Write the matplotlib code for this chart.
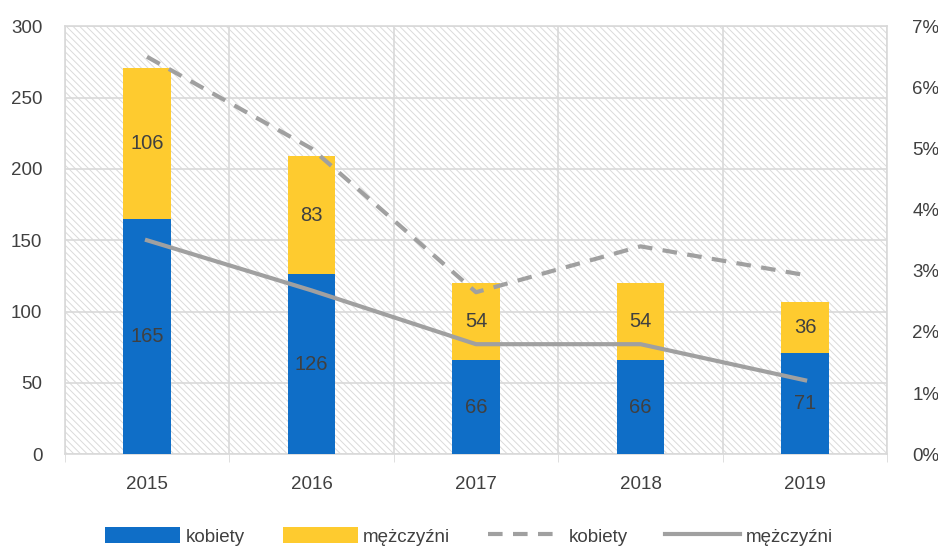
import numpy as np
import matplotlib.pyplot as plt
from matplotlib.ticker import FuncFormatter, FixedLocator

plt.rcParams['font.family'] = ['Liberation Sans Narrow', 'Liberation Sans', 'DejaVu Sans']
plt.rcParams['hatch.color'] = '#dadada'
plt.rcParams['hatch.linewidth'] = 0.7

years = ['2015', '2016', '2017', '2018', '2019']
kobiety = [165, 126, 66, 66, 71]
mezczyzni = [106, 83, 54, 54, 36]
kobiety_pct = [6.5, 5.0, 2.65, 3.4, 2.93]
mezczyzni_pct = [3.5, 2.68, 1.8, 1.8, 1.21]

blue = '#0f6ec7'
yellow = '#fecb2f'
grey = '#a0a0a0'
txt = '#404040'

fig = plt.figure(figsize=(9.38, 5.46), dpi=100)
ax = fig.add_axes([0.069, 0.168, 0.877, 0.784])
x = np.arange(len(years))

# hatched background
ax.add_patch(plt.Rectangle((0, 0), 1, 1, transform=ax.transAxes, facecolor='white',
                           edgecolor='#dadada', hatch='\\\\\\\\\\', lw=0, zorder=0))

ax.bar(x, kobiety, width=0.29, color=blue, label='kobiety', zorder=3)
ax.bar(x, mezczyzni, width=0.29, bottom=kobiety, color=yellow, label='mężczyźni', zorder=3)

for i in range(len(years)):
    ax.text(x[i], kobiety[i] / 2, str(kobiety[i]), ha='center', va='center', fontsize=14.5, color=txt, zorder=4)
    ax.text(x[i], kobiety[i] + mezczyzni[i] / 2, str(mezczyzni[i]), ha='center', va='center', fontsize=14.5, color=txt, zorder=4)

ax.set_xlim(-0.5, 4.5)
ax.set_ylim(0, 300)
ax.set_yticks(range(0, 301, 50))
ax.set_xticks(x)
ax.set_xticklabels(years)
ax.xaxis.set_minor_locator(FixedLocator(np.arange(-0.5, 5, 1)))
ax.grid(True, axis='y', color='#d9d9d9', lw=1.2, zorder=1)
ax.grid(True, axis='x', which='minor', color='#d9d9d9', lw=1.2, zorder=1)
ax.tick_params(axis='x', which='major', length=0, pad=16, labelsize=13.5, labelcolor=txt)
ax.tick_params(axis='x', which='minor', length=6, color='#d9d9d9')
ax.tick_params(axis='y', length=0, labelsize=13.5, labelcolor=txt, pad=16)
for s in ax.spines.values():
    s.set_color('#d9d9d9')
    s.set_linewidth(1.2)
ax.set_axisbelow(True)

ax2 = ax.twinx()
ax2.plot(x, kobiety_pct, color=grey, lw=3, ls=(0, (3.5, 2.5)), label='kobiety', zorder=5)
ax2.plot(x, mezczyzni_pct, color=grey, lw=3, label='mężczyźni', zorder=5)
ax2.set_ylim(0, 7)
ax2.set_yticks(range(0, 8))
ax2.yaxis.set_major_formatter(FuncFormatter(lambda v, p: f'{v:.0f}%'))
ax2.tick_params(axis='y', length=0, labelsize=13.5, labelcolor=txt, pad=18)
for s in ax2.spines.values():
    s.set_visible(False)

h1, l1 = ax.get_legend_handles_labels()
h2, l2 = ax2.get_legend_handles_labels()
fig.legend(h1 + h2, l1 + l2, loc='lower center', ncol=4, frameon=False, fontsize=13.5,
           bbox_to_anchor=(0.5, -0.03), handlelength=4, handleheight=0.9, columnspacing=2.0,
           labelcolor=txt, handletextpad=0.3)

fig.savefig('out.png', dpi=100)
